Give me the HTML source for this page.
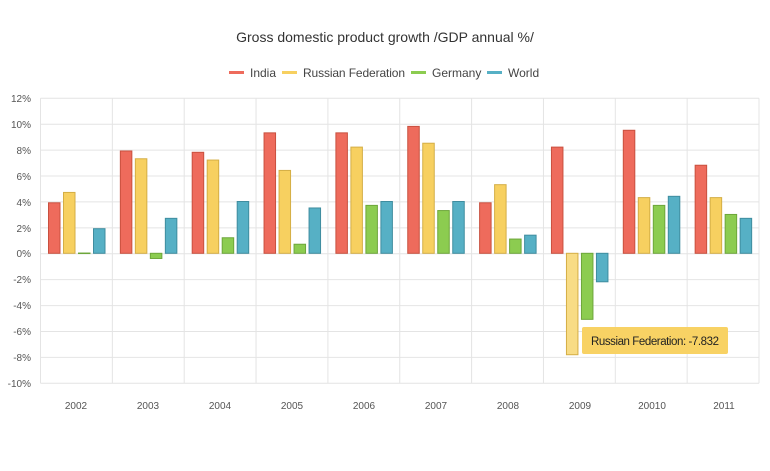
<!DOCTYPE html>
<html><head><meta charset="utf-8"><style>
html,body{margin:0;padding:0;background:#fff;}
svg{display:block;font-family:"Liberation Sans",sans-serif;}
</style></head><body>
<svg id="c" width="770" height="471" viewBox="0 0 770 471">
<rect width="770" height="471" fill="#fff"/>
<g id="grid" stroke="#e4e4e4" stroke-width="1"></g>
<text x="385" y="42" text-anchor="middle" font-size="14" fill="#333">Gross domestic product growth /GDP annual %/</text>
<g font-size="12" fill="#444">
<rect x="229" y="71" width="15" height="3" fill="#ee6b5c"/><text x="250" y="77">India</text>
<rect x="282" y="71" width="15" height="3" fill="#f7d060"/><text x="303" y="77" textLength="102">Russian Federation</text>
<rect x="411" y="71" width="15" height="3" fill="#8ccc50"/><text x="432" y="77">Germany</text>
<rect x="487" y="71" width="15" height="3" fill="#56b0c5"/><text x="508" y="77">World</text>
</g>
<g font-size="10" fill="#555" text-anchor="end">
<text x="31" y="102">12%</text><text x="31" y="128">10%</text><text x="31" y="154">8%</text><text x="31" y="180">6%</text><text x="31" y="206">4%</text><text x="31" y="232">2%</text><text x="31" y="257">0%</text><text x="31" y="283">-2%</text><text x="31" y="309">-4%</text><text x="31" y="335">-6%</text><text x="31" y="361">-8%</text><text x="31" y="387">-10%</text>
</g>
<g font-size="10" fill="#555" text-anchor="middle">
<text x="76" y="409">2002</text><text x="148" y="409">2003</text><text x="220" y="409">2004</text><text x="292" y="409">2005</text><text x="364" y="409">2006</text><text x="436" y="409">2007</text><text x="508" y="409">2008</text><text x="580" y="409">2009</text><text x="652" y="409">20010</text><text x="724" y="409">2011</text>
</g>
<g id="bars"></g>
<rect x="582" y="327" width="146" height="27" rx="2" fill="#f8d264"/>
<text x="591" y="345" font-size="11.5" fill="#222" textLength="128">Russian Federation: -7.832</text>
</svg>
<script>
var ns="http://www.w3.org/2000/svg";
var g=document.getElementById("grid"),b=document.getElementById("bars");
function el(p,t,a){var e=document.createElementNS(ns,t);for(var k in a)e.setAttribute(k,a[k]);p.appendChild(e);return e;}
var T=98.3,B=383.3,L=40.5,R=759,Z=253.3,S=12.95;
for(var i=0;i<=11;i++){var y=T+i*(B-T)/11;el(g,"line",{x1:L,x2:R,y1:y,y2:y});}
for(var i=0;i<=10;i++){var x=L+i*71.85;el(g,"line",{x1:x,x2:x,y1:T,y2:B});}
var d=[[3.9,4.7,0.02,1.9],[7.9,7.3,-0.4,2.7],[7.8,7.2,1.2,4.0],[9.3,6.4,0.7,3.5],[9.3,8.2,3.7,4.0],[9.8,8.5,3.3,4.0],[3.9,5.3,1.1,1.4],[8.2,-7.832,-5.1,-2.2],[9.5,4.3,3.7,4.4],[6.8,4.3,3.0,2.7]];
var f=["#ee6b5c","#f7d060","#8ccc50","#56b0c5"],st=["#c9503f","#d4ae45","#6da63a","#3f8d9f"];
d.forEach(function(r,i){r.forEach(function(v,j){var x=L+i*71.85+8+j*15;var h=Math.abs(v)*S;var y=v>=0?Z-h:Z;
var fill=f[j];if(i==7&&j==1)fill="#f8dc85";
el(b,"rect",{x:x,y:y,width:11.5,height:Math.max(h,0.5),fill:fill,stroke:st[j],"stroke-width":1});});});
</script>
</body></html>
